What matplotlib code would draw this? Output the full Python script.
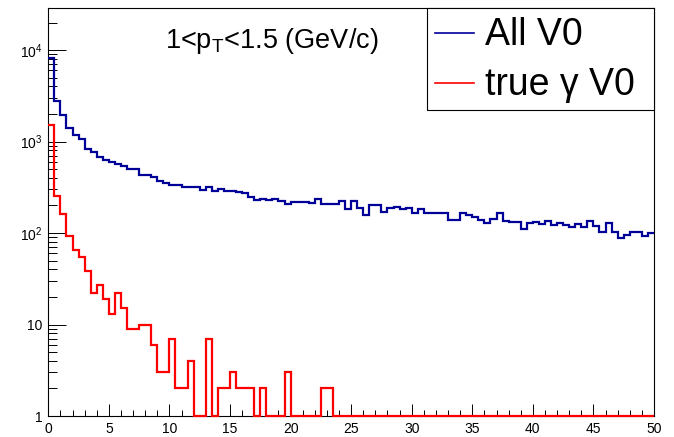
import matplotlib
matplotlib.use('Agg')

import numpy as np
import matplotlib.pyplot as plt
from matplotlib.patches import Rectangle
from matplotlib.lines import Line2D
from matplotlib.ticker import FixedLocator, MultipleLocator, NullFormatter

plt.rcParams['font.family'] = ['Liberation Sans', 'DejaVu Sans']
plt.rcParams['mathtext.fontset'] = 'custom'
plt.rcParams['mathtext.rm'] = 'Liberation Sans'
plt.rcParams['mathtext.it'] = 'Liberation Sans:italic'

# 100 bins of 0.5 from 0 to 50
BIN_EDGES = np.linspace(0, 50, 101)

all_v0 = [8110, 2773, 1932, 1393, 1178, 1065, 828, 774, 672, 628,
          597, 568, 540, 505, 505, 434, 434, 406, 373, 355,
          338, 338, 321, 321, 321, 295, 321, 290, 301, 290,
          290, 283, 271, 249, 230, 236, 230, 237, 224, 208,
          218, 218, 218, 211, 237, 208, 208, 208, 225, 183,
          225, 189, 156, 202, 202, 171, 186, 191, 182, 186,
          167, 182, 167, 164, 167, 164, 139, 139, 167, 157,
          151, 139, 128, 141, 167, 135, 131, 131, 112, 128,
          133, 125, 136, 122, 128, 122, 117, 125, 117, 135,
          119, 103, 128, 103, 88, 95, 102, 102, 93, 99]

true_gamma_v0 = [1514, 256, 161, 93, 65, 55, 38, 22, 27, 19,
                 13, 22, 15, 9, 9, 10, 10, 6, 3, 3,
                 7, 2, 2, 4, 0, 0, 7, 0, 2, 2,
                 3, 2, 2, 2, 0, 2, 0, 0, 0, 3,
                 0, 0, 0, 0, 0, 2, 2, 0, 0, 0,
                 0, 0, 0, 0, 0, 0, 0, 0, 0, 0,
                 0, 0, 0, 0, 0, 0, 0, 0, 0, 0,
                 0, 0, 0, 0, 0, 0, 0, 0, 0, 0,
                 0, 0, 0, 0, 0, 0, 0, 0, 0, 0,
                 0, 0, 0, 0, 0, 0, 0, 0, 0, 0]

LABELS = ["All V0", "true \u03b3 V0"]
COLORS = ["#000099", "#ff0000"]
TITLE = r"1<p$_{\mathregular{T}}$<1.5 (GeV/c)"

YTICKS = [1, 10, 100, 1000, 10000]
YTICK_LABELS = ["1", "10", r"$\mathregular{10^{2}}$", r"$\mathregular{10^{3}}$", r"$\mathregular{10^{4}}$"]

YMIN = 1
YMAX = 2.86e4

W, H = 674, 437
fig = plt.figure(figsize=(W / 100, H / 100), dpi=100)
# frame in pixels: left 48.3, right 654, top 8.3, bottom 416
ax = fig.add_axes([48.3 / W, (H - 416) / H, (654 - 48.3) / W, (416 - 8.3) / H])

ax.set_yscale('log')
ax.set_xlim(0, 50)
ax.set_ylim(YMIN, YMAX)

for vals, col in zip([all_v0, true_gamma_v0], COLORS):
    # empty bins are drawn on the bottom of the frame, like ROOT does
    shown = np.maximum(np.array(vals, dtype=float), YMIN)
    ax.stairs(shown, BIN_EDGES, baseline=None, color=col, linewidth=1.6,
              zorder=5, clip_on=False)

# ticks ROOT style: inside, only left and bottom
ax.xaxis.set_major_locator(MultipleLocator(5))
ax.xaxis.set_minor_locator(MultipleLocator(1))
ax.yaxis.set_major_locator(FixedLocator(YTICKS))
ax.set_yticklabels(YTICK_LABELS)
minors = [m * 10 ** e for e in range(0, 5) for m in range(2, 10)]
ax.yaxis.set_minor_locator(FixedLocator(minors))
ax.yaxis.set_minor_formatter(NullFormatter())

ax.tick_params(axis='x', which='major', direction='in', length=8.3, width=0.7,
               labelsize=10, pad=4.3, top=False)
ax.tick_params(axis='x', which='minor', direction='in', length=4.1, width=0.7, top=False)
ax.tick_params(axis='y', which='major', direction='in', length=13, width=0.7,
               labelsize=10, pad=4, right=False)
ax.tick_params(axis='y', which='minor', direction='in', length=6.5, width=0.7, right=False)

for sp in ax.spines.values():
    sp.set_linewidth(0.8)
    sp.set_color('black')

# title text inside the frame
fig.text(271.7 / W, 1 - 48.3 / H, TITLE, fontsize=19.5, ha='center', va='baseline')

# legend box, drawn by hand in the ROOT way
def px_to_ax(x, y):
    return (x - 48.3) / (654 - 48.3), (416 - y) / (416 - 8.3)

x0, y0 = px_to_ax(427, 110)
x1, y1 = px_to_ax(654, 8.3)
ax.add_patch(Rectangle((x0, y0), x1 - x0, y1 - y0, transform=ax.transAxes,
                       facecolor='white', edgecolor='black', linewidth=0.8,
                       zorder=6, clip_on=False))
line_y = [32.7, 83.3]
text_base = [45, 95]
for lab, col, ly, tb in zip(LABELS, COLORS, line_y, text_base):
    lx0, lyy = px_to_ax(435, ly)
    lx1, _ = px_to_ax(474, ly)
    ax.add_line(Line2D([lx0, lx1], [lyy, lyy], transform=ax.transAxes,
                       color=col, linewidth=1.2, zorder=7, clip_on=False))
    tx, ty = px_to_ax(485, tb)
    ax.text(tx, ty, lab, transform=ax.transAxes, fontsize=27,
            ha='left', va='baseline', zorder=7)

fig.savefig("out.png", dpi=100)
